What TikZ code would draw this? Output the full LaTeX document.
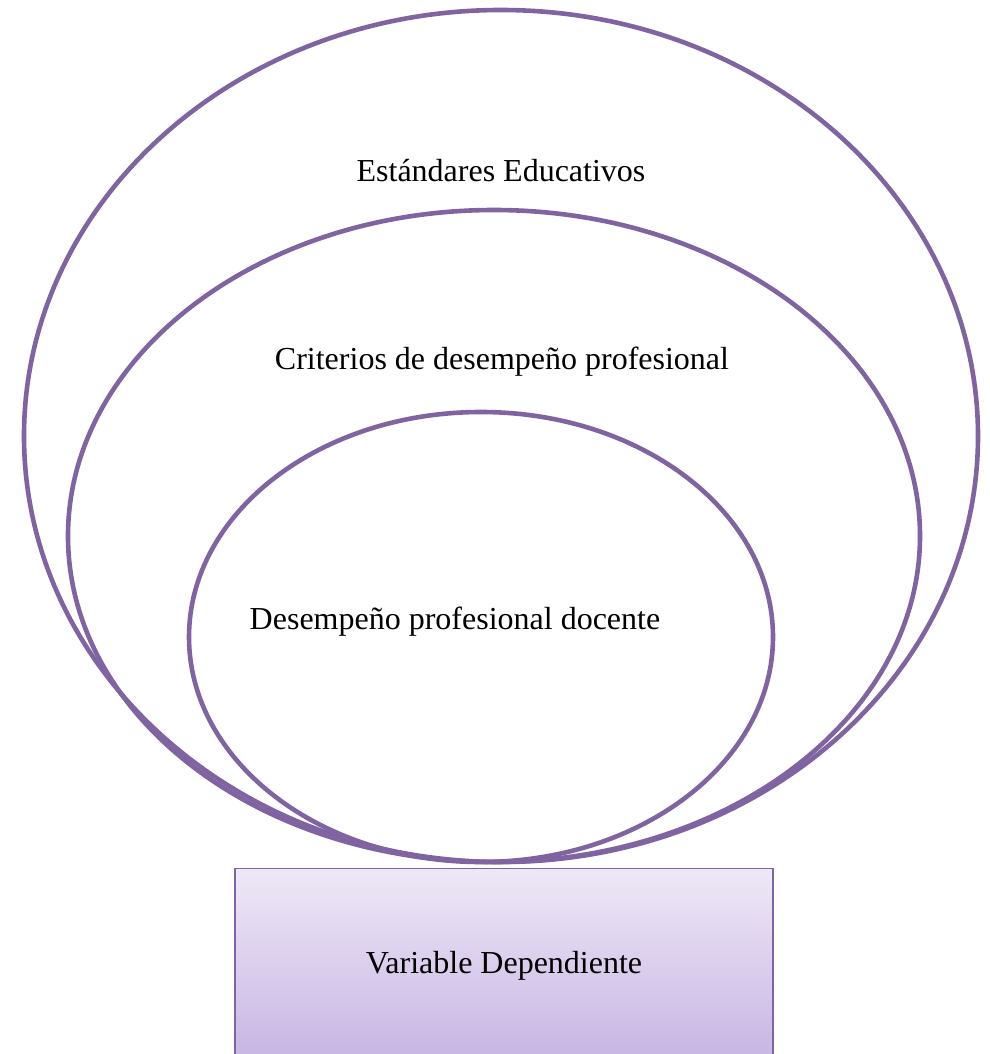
\documentclass[tikz,border=0pt]{standalone}
\usepackage{fontspec}
\setmainfont{Liberation Serif}
\usetikzlibrary{positioning}
\definecolor{ring}{HTML}{8064A2}
\definecolor{boxtop}{HTML}{EEE8F6}
\definecolor{boxbot}{HTML}{C8B5E4}
\tikzset{
  ring/.style={draw=ring, line width=4.6pt},
  lab/.style={text=black, font=\fontsize{32}{38}\selectfont},
  varbox/.style={draw=ring, line width=1.4pt, top color=boxtop, bottom color=boxbot,
    minimum width=538pt, minimum height=190pt, inner sep=0pt, anchor=north},
}
\begin{document}
\begin{tikzpicture}[x=1pt,y=-1pt]
\useasboundingbox (0,0) rectangle (989,1054);
% nested rings
\draw[ring] (501,436) ellipse [x radius=477, y radius=426];
\draw[ring] (494,536) ellipse [x radius=426, y radius=326];
\draw[ring] (481,637) ellipse [x radius=292, y radius=225];
\node[lab] (estandares) at (501,171) {Estándares Educativos};
\node[lab] (criterios) at (502,362) {Criterios de desempeño profesional};
\node[lab] (desempeno) at (455,622) {Desempeño profesional docente};
% variable box
\node[varbox] (variable) at (504,868) {};
\node[lab] (varlab) at (504,966) {Variable Dependiente};
\end{tikzpicture}
\end{document}
